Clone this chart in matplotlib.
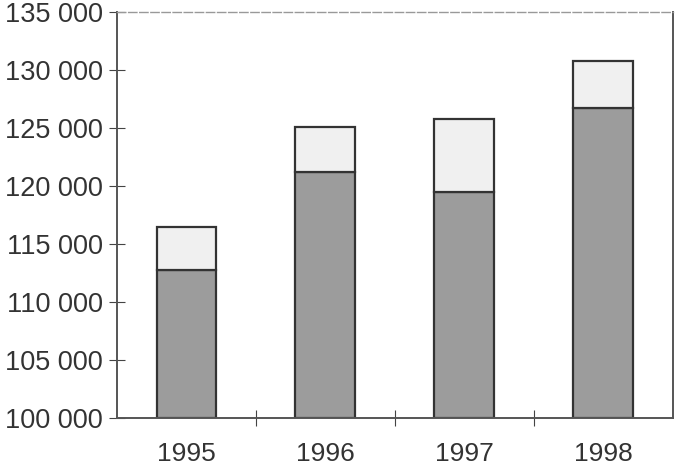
import matplotlib.pyplot as plt
from matplotlib.ticker import FuncFormatter

# Data
years = ['1995', '1996', '1997', '1998']
base = [112800, 121200, 119500, 126700]   # dark lower segment
extra = [3700, 3900, 6300, 4100]          # light upper segment

plt.rcParams['font.family'] = ['Liberation Sans', 'DejaVu Sans']

fig = plt.figure(figsize=(6.76, 4.68), dpi=100)
ax = fig.add_axes([0.173, 0.107, 0.822, 0.867])

x = range(len(years))
ax.bar(x, [b - 100000 for b in base], bottom=100000, width=0.43,
       color='#9c9c9c', edgecolor='#333333', linewidth=1.6)
ax.bar(x, extra, bottom=base, width=0.43,
       color='#f0f0f0', edgecolor='#333333', linewidth=1.6)

ax.set_ylim(100000, 135000)
ax.set_xlim(-0.5, 3.5)
ax.set_yticks(range(100000, 135001, 5000))
ax.yaxis.set_major_formatter(FuncFormatter(lambda v, p: f'{int(v):,}'.replace(',', ' ')))

# x ticks sit between categories, labels centred under bars
ax.set_xticks([0.5, 1.5, 2.5])
ax.set_xticklabels([])
ax.set_xticks(list(x), minor=True)
ax.set_xticklabels(years, minor=True)
ax.tick_params(axis='x', which='minor', length=0, pad=17, labelsize=19, labelcolor='#333333')
ax.tick_params(axis='x', which='major', direction='inout', length=12, color='#444444')
ax.tick_params(axis='y', direction='inout', length=12, color='#444444', pad=4,
               labelsize=19.5, labelcolor='#333333')

for side in ['left', 'bottom', 'right']:
    ax.spines[side].set_color('#555555')
    ax.spines[side].set_linewidth(1.4)
ax.spines['top'].set_color('#999999')
ax.spines['top'].set_linewidth(1.0)
ax.spines['top'].set_linestyle((0, (6, 2)))

fig.savefig('out.png', dpi=100)
